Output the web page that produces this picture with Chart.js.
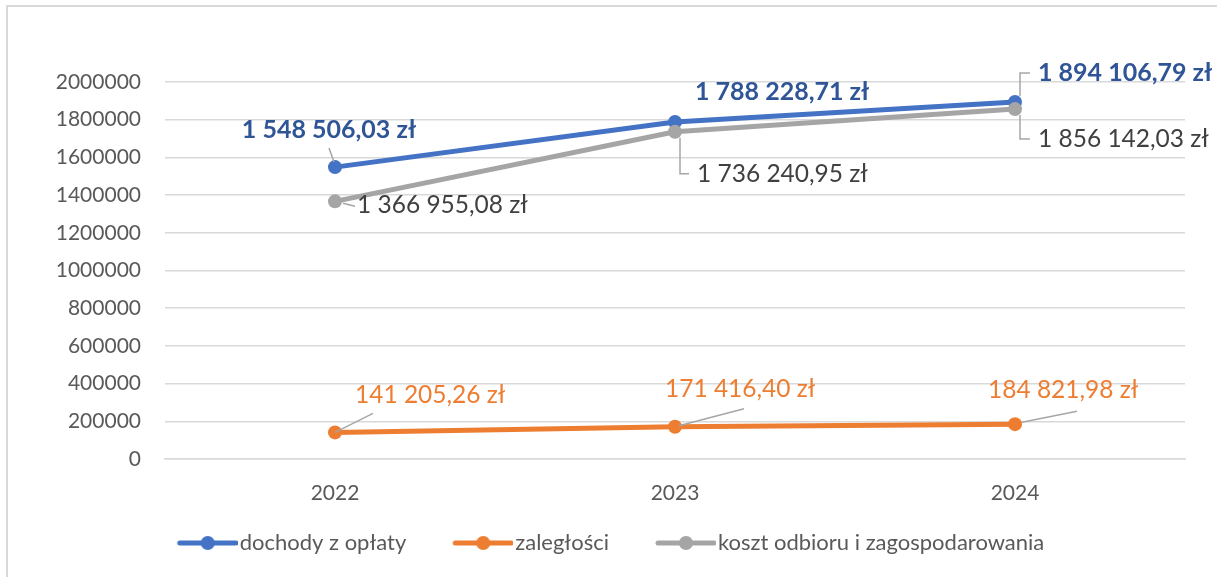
<!DOCTYPE html>
<html>
  <head>
    <meta charset="UTF-8">
    <title>Dochody, zaległości i koszt</title>
    <script src="https://cdn.jsdelivr.net/npm/chart.js@4.4.1/dist/chart.umd.min.js"></script>
    <style>
      body { margin: 0; background: #fff; overflow: hidden; }
      #frame { position: absolute; left: 6px; top: 5px; width: 1300px; height: 700px; border: 2px solid #d9d9d9; }
      #chart { position: absolute; left: 0; top: 0; }
    </style>
  </head>
  <body>
    <div id="frame"></div>
    <canvas id="chart" width="1217" height="577"></canvas>

    <script>
      const categories = ['2022', '2023', '2024'];
      const seriesNames = ['dochody z opłaty', 'zaległości', 'koszt odbioru i zagospodarowania'];
      const dochody = [1548506.03, 1788228.71, 1894106.79];
      const zaleglosci = [141205.26, 171416.40, 184821.98];
      const koszt = [1366955.08, 1736240.95, 1856142.03];
      const yMin = 0;
      const yMax = 2000000;
      const yStep = 200000;

      const FONT = 'Lato';
      const colors = ['#4472c4', '#ed7d31', '#a5a5a5'];
      const labelColors = ['#2f5597', '#ed7d31', '#404040'];

      function formatZl(v) {
        let parts = v.toFixed(2).split('.');
        let intPart = parts[0].replace(/\B(?=(\d{3})+(?!\d))/g, ' ');
        return intPart + ',' + parts[1] + ' zł';
      }

      // where each data label sits relative to its point, and how its leader line runs
      const labelLayout = [
        [ // dochody
          { dx: -6, dy: -37, align: 'center', lead: 'straight', from: [-6, -19], to: [-1, -5] },
          { dx: 20, dy: -30, align: 'left' },
          { dx: 23, dy: -29, align: 'left', lead: 'elbow' }
        ],
        [ // zaległości
          { dx: 20, dy: -37, align: 'left', lead: 'straight', from: [0, 0], to: [38, -19] },
          { dx: -10, dy: -38, align: 'left', lead: 'straight', from: [4, -1], to: [69, -18] },
          { dx: -27, dy: -34, align: 'left', lead: 'straight', from: [7, -2], to: [62, -13] }
        ],
        [ // koszt
          { dx: 22, dy: 4, align: 'left', lead: 'straight', from: [8, 2], to: [20, 5] },
          { dx: 22, dy: 42, align: 'left', lead: 'elbow' },
          { dx: 23, dy: 30, align: 'left', lead: 'elbow' }
        ]
      ];

      const dataLabelsPlugin = {
        id: 'dataLabels',
        afterDatasetsDraw(chart) {
          const ctx = chart.ctx;
          ctx.save();
          chart.data.datasets.forEach((ds, di) => {
            const meta = chart.getDatasetMeta(di);
            meta.data.forEach((pt, i) => {
              const lay = labelLayout[di][i];
              const x = pt.x, y = pt.y;
              const lx = x + lay.dx, ly = y + lay.dy;

              ctx.strokeStyle = '#a6a6a6';
              ctx.lineWidth = 1.5;
              if (lay.lead === 'straight') {
                ctx.beginPath();
                ctx.moveTo(x + lay.from[0], y + lay.from[1]);
                ctx.lineTo(x + lay.to[0], y + lay.to[1]);
                ctx.stroke();
              } else if (lay.lead === 'elbow') {
                ctx.beginPath();
                ctx.moveTo(x + 5, y + (lay.dy < 0 ? -6 : 6));
                ctx.lineTo(x + 5, ly);
                ctx.lineTo(lx - 8, ly);
                ctx.stroke();
              }

              ctx.font = (di === 0 ? 'bold 25px ' : '24.5px ') + FONT;
              ctx.fillStyle = labelColors[di];
              ctx.textAlign = lay.align;
              ctx.textBaseline = 'middle';
              ctx.fillText(formatZl(ds.data[i]), lx, ly);
            });
          });
          ctx.restore();
        }
      };

      // legend marker: short line with a dot, padded on the left so the items spread out
      function legendIcon(color) {
        const c = document.createElement('canvas');
        c.width = 106;
        c.height = 16;
        const g = c.getContext('2d');
        g.strokeStyle = color;
        g.lineWidth = 5;
        g.lineCap = 'round';
        g.beginPath();
        g.moveTo(48, 8);
        g.lineTo(104, 8);
        g.stroke();
        g.fillStyle = color;
        g.beginPath();
        g.arc(76, 8, 7, 0, Math.PI * 2);
        g.fill();
        return c;
      }

      const seriesData = [dochody, zaleglosci, koszt];
      const drawOrder = [3, 2, 1];
      const datasets = seriesData.map((d, i) => ({
        label: seriesNames[i],
        data: d,
        borderColor: colors[i],
        backgroundColor: colors[i],
        borderWidth: 5,
        pointStyle: 'circle',
        pointRadius: 7,
        pointHoverRadius: 7,
        pointBorderWidth: 0,
        order: drawOrder[i],
        tension: 0
      }));

      new Chart(document.getElementById('chart').getContext('2d'), {
        type: 'line',
        data: { labels: categories, datasets: datasets },
        options: {
          responsive: false,
          animation: false,
          devicePixelRatio: 1,
          layout: { padding: { top: 82, right: 32, bottom: 13, left: 0 } },
          scales: {
            x: {
              offset: true,
              grid: { display: false, drawTicks: false, offset: true },
              border: { display: true, color: '#d9d9d9', width: 1.5 },
              ticks: { color: '#595959', font: { family: FONT, size: 21 }, padding: 22 },
              afterFit(scale) {
                scale.height = 577 - 459 - 13 - (scale.chart.legend ? scale.chart.legend.height : 0);
              }
            },
            y: {
              min: yMin,
              max: yMax,
              grid: { color: '#d9d9d9', lineWidth: 1.5, drawTicks: false },
              border: { display: false },
              ticks: {
                stepSize: yStep,
                color: '#595959',
                font: { family: FONT, size: 21 },
                padding: 24,
                callback: v => String(v)
              },
              afterFit(scale) { scale.width = 165; }
            }
          },
          plugins: {
            tooltip: { enabled: false },
            legend: {
              position: 'bottom',
              labels: {
                usePointStyle: true,
                pointStyleWidth: 88,
                color: '#595959',
                font: { family: FONT, size: 22 },
                padding: 10,
                generateLabels(chart) {
                  return chart.data.datasets.map((ds, i) => ({
                    text: ds.label,
                    fillStyle: ds.borderColor,
                    strokeStyle: ds.borderColor,
                    lineWidth: 0,
                    pointStyle: legendIcon(ds.borderColor),
                    fontColor: '#595959',
                    hidden: false,
                    datasetIndex: i
                  }));
                }
              }
            }
          }
        },
        plugins: [dataLabelsPlugin]
      });
    </script>
  </body>
</html>
